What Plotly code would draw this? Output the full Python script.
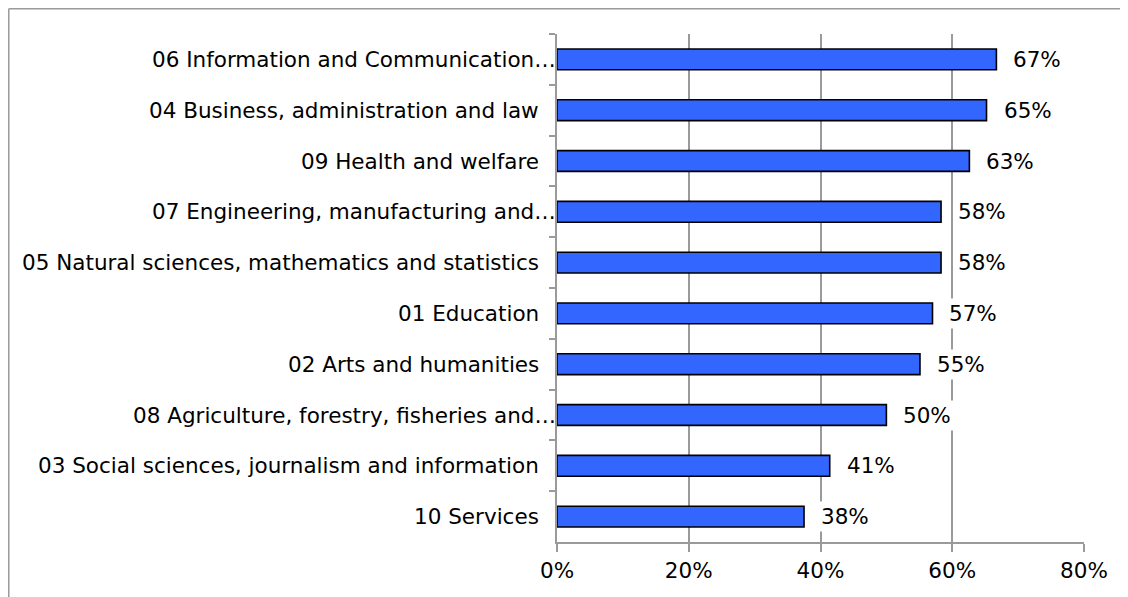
import plotly.graph_objects as go

# data (share, %)
categories = [
    "06 Information and Communication…",
    "04 Business, administration and law",
    "09 Health and welfare",
    "07 Engineering, manufacturing and…",
    "05 Natural sciences, mathematics and statistics",
    "01 Education",
    "02 Arts and humanities",
    "08 Agriculture, forestry, fisheries and…",
    "03 Social sciences, journalism and information",
    "10 Services",
]
values = [66.7, 65.2, 62.6, 58.3, 58.3, 57.0, 55.1, 50.0, 41.4, 37.5]
x_ticks = [0, 20, 40, 60, 80]
x_ticklabels = ["0%", "20%", "40%", "60%", "80%"]

FONT = "DejaVu Sans"
FS = 21.5
GREY = "#9a9a9a"

fig = go.Figure()
fig.add_trace(go.Bar(
    x=values,
    y=categories,
    orientation="h",
    width=0.41,
    marker=dict(color="#3366ff", line=dict(color="#000000", width=1.6)),
    hoverinfo="x+y",
))

# value labels (white box so they break the gridlines, like the original)
annotations = []
for cat, v in zip(categories, values):
    annotations.append(dict(
        x=v, y=cat, xref="x", yref="y",
        text=f"{round(v)}%",
        showarrow=False, xanchor="left", yanchor="middle",
        xshift=14, bgcolor="white", borderpad=2,
        font=dict(family=FONT, size=FS, color="#000000"),
    ))

# category labels: truncated ones sit against the axis
for cat in categories:
    annotations.append(dict(
        x=0, y=cat, xref="paper", yref="y",
        text=cat, showarrow=False,
        xanchor="right", yanchor="middle",
        xshift=1 if cat.endswith("…") else -16,
        font=dict(family=FONT, size=FS, color="#000000"),
    ))

# page body adds 8px, so the figure is sized to fit the window
fig.update_layout(
    width=1120, height=589,
    margin=dict(l=549, r=44, t=26, b=55),
    paper_bgcolor="white", plot_bgcolor="white",
    showlegend=False,
    bargap=0.59,
    font=dict(family=FONT, size=FS, color="#000000"),
    annotations=annotations,
    xaxis=dict(
        range=[0, 80], tickvals=x_ticks, ticktext=x_ticklabels,
        showgrid=True, gridcolor=GREY, gridwidth=1.5,
        showline=True, linecolor=GREY, linewidth=1.5,
        ticks="outside", ticklen=8, tickcolor=GREY, tickwidth=1.5,
        zeroline=False, fixedrange=True,
        tickfont=dict(family=FONT, size=FS, color="#000000"),
    ),
    yaxis=dict(
        type="category", autorange="reversed",
        showticklabels=False,
        showline=True, linecolor=GREY, linewidth=1.5,
        ticks="outside", tickson="boundaries", ticklen=6,
        tickcolor=GREY, tickwidth=1.5,
        showgrid=False, fixedrange=True,
    ),
    shapes=[
        dict(type="line", xref="paper", yref="paper",
             x0=-1.0403, x1=-1.0403, y0=-0.15, y1=1.0497,
             line=dict(color=GREY, width=1.5)),
        dict(type="line", xref="paper", yref="paper",
             x0=-1.0403, x1=1.1, y0=1.0497, y1=1.0497,
             line=dict(color=GREY, width=1.5)),
    ],
)

fig.write_html("out.html")
